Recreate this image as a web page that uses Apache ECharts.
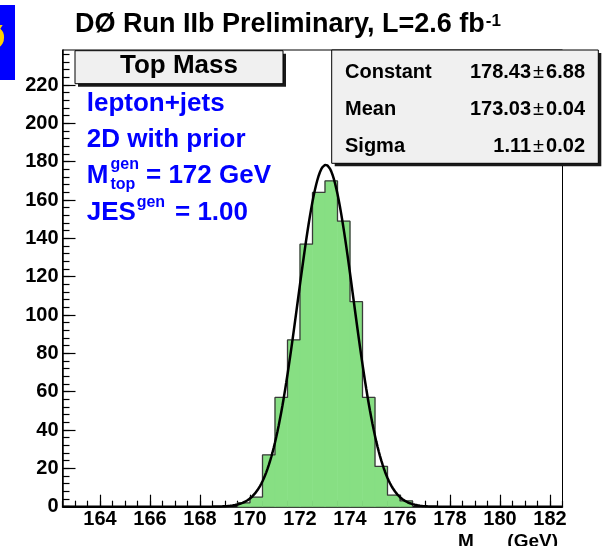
<!DOCTYPE html>
<html>
<head>
<meta charset="utf-8">
<script src="https://cdn.jsdelivr.net/npm/echarts@6/dist/echarts.min.js"></script>
<style>
  html, body { margin: 0; padding: 0; background: #ffffff; }
  #chart { width: 604px; height: 546px; }
</style>
</head>
<body>
<div id="chart"></div>
<script>
// Ensemble test of the top-quark mass fit: fitted M_top per pseudo-experiment, 0.5 GeV bins
const binLow = [169.5, 170.0, 170.5, 171.0, 171.5, 172.0, 172.5, 173.0, 173.5, 174.0, 174.5, 175.0, 175.5, 176.0];
const binWidth = 0.5;
const binCounts = [2, 5, 27, 57, 87, 137, 164, 170, 149, 107, 57, 21, 6, 3];

// Gaussian fit result shown in the statistics box
const fitConstant = 178.43, fitConstantErr = 6.88;
const fitMean = 173.03, fitMeanErr = 0.04;
const fitSigma = 1.11, fitSigmaErr = 0.02;

// Axis ranges and labelled ticks
const xRange = [162.5, 182.5];
const yRange = [0, 238.3];
const xTickLabels = [164, 166, 168, 170, 172, 174, 176, 178, 180, 182];
const yTickLabels = [0, 20, 40, 60, 80, 100, 120, 140, 160, 180, 200, 220];

const FONT = '"Liberation Sans", Arial, Helvetica, sans-serif';
const FILL_GREEN = '#87df83';

// minor tick positions: every 0.5 GeV on x, every 4 entries on y
const xMinorTicks = [];
for (let v = xRange[0]; v <= xRange[1] + 1e-9; v += 0.5) xMinorTicks.push(+v.toFixed(2));
const yMinorTicks = [];
for (let v = 0; v <= yRange[1]; v += 4) yMinorTicks.push(v);

// fitted Gaussian evaluated over the full axis range
const fitCurve = [];
const nCurve = 400;
for (let i = 0; i <= nCurve; i++) {
  const x = xRange[0] + i * (xRange[1] - xRange[0]) / nCurve;
  const t = (x - fitMean) / fitSigma;
  fitCurve.push([x, fitConstant * Math.exp(-0.5 * t * t)]);
}

// step outline of the histogram
const outline = [];
binLow.forEach((lo, i) => {
  const hi = lo + binWidth;
  const prev = i > 0 ? binCounts[i - 1] : 0;
  outline.push([lo, prev], [lo, binCounts[i]], [hi, binCounts[i]]);
});
outline.push([binLow[binLow.length - 1] + binWidth, 0]);

// text measurement helper for placing superscripts
const measureCtx = document.createElement('canvas').getContext('2d');
function textWidth(str, size, weight) {
  measureCtx.font = (weight || 'bold') + ' ' + size + 'px ' + FONT;
  return measureCtx.measureText(str).width;
}

const chart = echarts.init(document.getElementById('chart'), null, { renderer: 'canvas' });

const titleText = 'D\u00D8 Run IIb Preliminary, L=2.6 fb';
const titleX = 75, titleSize = 27;
const titleEnd = titleX + textWidth(titleText, titleSize);

function boldText(x, y, str, size, color, align, extra) {
  return Object.assign({
    type: 'text', x: x, y: y, z: 120,
    style: {
      text: str, fill: color || '#000', font: 'bold ' + size + 'px ' + FONT,
      textAlign: align || 'left', textVerticalAlign: 'middle'
    }
  }, extra || {});
}

function statValue(y, val, err) {
  return {
    type: 'text', x: 585, y: y, z: 120,
    style: {
      text: '{v|' + val + '}{pm|\u00B1}{v|' + err + '}',
      textAlign: 'right', textVerticalAlign: 'middle',
      rich: {
        v: { fontFamily: FONT, fontWeight: 'bold', fontSize: 20, fill: '#000' },
        pm: { fontFamily: FONT, fontWeight: 'normal', fontSize: 20, fill: '#000', padding: [0, 2, 0, 2] }
      }
    }
  };
}

const BLUE = '#0000ff';

const option = {
  animation: false,
  backgroundColor: '#ffffff',
  grid: {
    left: 62.5, right: 41.5, top: 50, bottom: 39.3,
    show: true, borderColor: '#000', borderWidth: 1, backgroundColor: 'transparent'
  },
  xAxis: [
    {
      type: 'value', min: xRange[0], max: xRange[1], position: 'bottom',
      axisLine: { show: true, onZero: false, lineStyle: { color: '#000', width: 1.5 } },
      axisTick: { show: true, inside: true, length: 12, customValues: xTickLabels, lineStyle: { color: '#000', width: 1.2 } },
      axisLabel: {
        show: true, customValues: xTickLabels, margin: 3, color: '#000',
        fontSize: 20, fontWeight: 'bold', fontFamily: FONT
      },
      splitLine: { show: false }
    },
    {
      type: 'value', min: xRange[0], max: xRange[1], position: 'bottom',
      axisLine: { show: false },
      axisTick: { show: true, inside: true, length: 6, customValues: xMinorTicks, lineStyle: { color: '#000', width: 1.2 } },
      axisLabel: { show: false },
      splitLine: { show: false }
    }
  ],
  yAxis: [
    {
      type: 'value', min: yRange[0], max: yRange[1], position: 'left',
      axisLine: { show: true, onZero: false, lineStyle: { color: '#000', width: 1.5 } },
      axisTick: { show: true, inside: true, length: 13, customValues: yTickLabels, lineStyle: { color: '#000', width: 1.2 } },
      axisLabel: {
        show: true, customValues: yTickLabels, margin: 4, color: '#000',
        fontSize: 20, fontWeight: 'bold', fontFamily: FONT, padding: [6, 0, 0, 0]
      },
      splitLine: { show: false }
    },
    {
      type: 'value', min: yRange[0], max: yRange[1], position: 'left',
      axisLine: { show: false },
      axisTick: { show: true, inside: true, length: 7, customValues: yMinorTicks, lineStyle: { color: '#000', width: 1.2 } },
      axisLabel: { show: false },
      splitLine: { show: false }
    }
  ],
  series: [
    {
      name: 'fill', type: 'custom', xAxisIndex: 0, yAxisIndex: 0, z: 2,
      data: binLow.map((lo, i) => [lo, lo + binWidth, binCounts[i]]),
      encode: { x: [0, 1], y: 2 },
      renderItem: function (params, api) {
        const p0 = api.coord([api.value(0), 0]);
        const p1 = api.coord([api.value(1), api.value(2)]);
        return {
          type: 'rect',
          shape: { x: p0[0], y: p1[1], width: p1[0] - p0[0], height: p0[1] - p1[1] },
          style: { fill: FILL_GREEN, stroke: FILL_GREEN, lineWidth: 0.6 }
        };
      }
    },
    {
      name: 'outline', type: 'line', xAxisIndex: 0, yAxisIndex: 0, z: 3,
      data: outline, symbol: 'none', silent: true,
      lineStyle: { color: '#3a3a3a', width: 1.3 }
    },
    {
      name: 'fit', type: 'line', xAxisIndex: 0, yAxisIndex: 0, z: 4,
      data: fitCurve, symbol: 'none', clip: false, silent: true,
      lineStyle: { color: '#000', width: 2.5 }
    }
  ],
  graphic: [
    // experiment logo at the top-left corner
    { type: 'rect', z: 110, shape: { x: 0, y: 5, width: 15, height: 75 }, style: { fill: '#0000ff' } },
    boldText(-21, 40, '\u00D8', 34, '#ffd200'),

    // title with superscript
    boldText(titleX, 24.2, titleText, titleSize),
    boldText(titleEnd + 1, 21, '-1', 17),

    // histogram title box
    { type: 'rect', z: 110, shape: { x: 78, y: 53.7, width: 208, height: 33 }, style: { fill: '#1a1a1a' } },
    { type: 'rect', z: 111, shape: { x: 75, y: 50.7, width: 208, height: 33 }, style: { fill: '#f0f0f0', stroke: '#000', lineWidth: 1 } },
    boldText(179, 66, 'Top Mass', 26, '#000', 'center'),

    // fit statistics box
    { type: 'rect', z: 110, shape: { x: 334.7, y: 53, width: 266.6, height: 113.3 }, style: { fill: '#1a1a1a' } },
    { type: 'rect', z: 111, shape: { x: 331.7, y: 50, width: 266.6, height: 113.3 }, style: { fill: '#f0f0f0', stroke: '#000', lineWidth: 1 } },
    boldText(345, 72, 'Constant', 20),
    boldText(345, 109, 'Mean', 20),
    boldText(345, 146, 'Sigma', 20),
    statValue(72, fitConstant.toFixed(2), fitConstantErr.toFixed(2)),
    statValue(109, fitMean.toFixed(2), fitMeanErr.toFixed(2)),
    statValue(146, fitSigma.toFixed(2), fitSigmaErr.toFixed(2)),

    // sample description
    boldText(86.7, 103.5, 'lepton+jets', 26, BLUE),
    boldText(86.7, 140, '2D with prior', 26, BLUE),
    boldText(86.7, 175.5, 'M', 26, BLUE),
    boldText(110.5, 164.2, 'gen', 16, BLUE),
    boldText(110.5, 184.2, 'top', 16, BLUE),
    boldText(146, 175.5, '= 172 GeV', 26, BLUE),
    boldText(86.7, 213.3, 'JES', 26, BLUE),
    boldText(136.7, 202.5, 'gen', 16, BLUE),
    boldText(175, 213.3, '= 1.00', 26, BLUE),

    // x-axis title
    boldText(458, 542, 'M', 19),
    boldText(475, 552, 'top', 13),
    boldText(558, 542, '(GeV)', 19, '#000', 'right')
  ]
};

chart.setOption(option);
</script>
</body>
</html>
